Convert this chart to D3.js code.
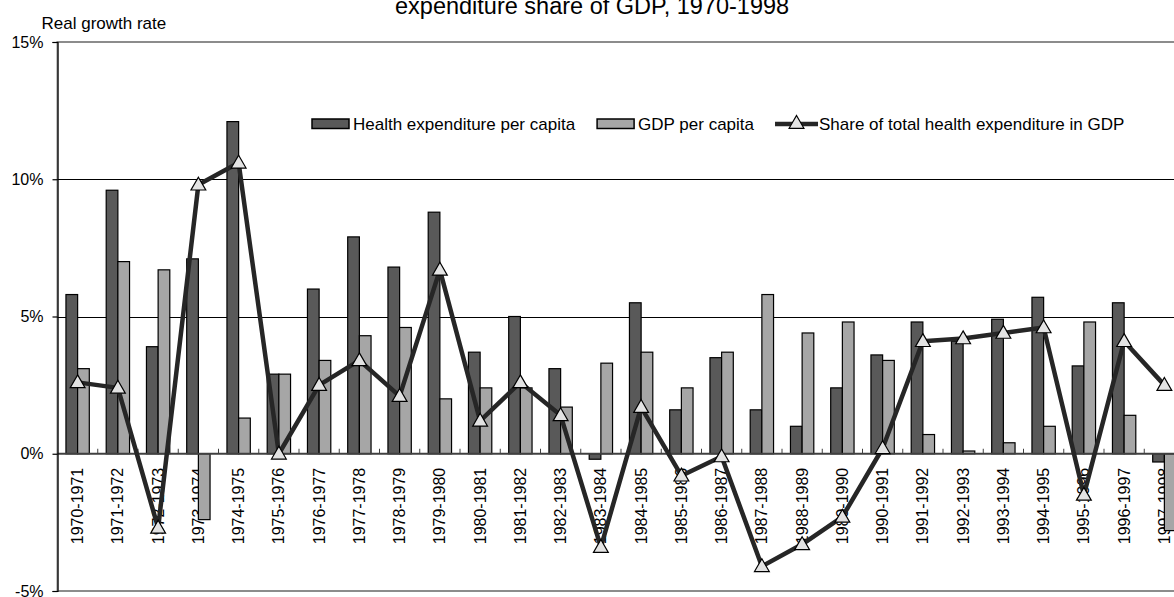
<!DOCTYPE html>
<html>
<head>
<meta charset="utf-8">
<script src="https://cdn.jsdelivr.net/npm/d3@7"></script>
<style>
  body { margin: 0; background: #fff; }
  svg { display: block; font-family: "Liberation Sans", Arial, sans-serif; }
</style>
</head>
<body>
<div id="chart"></div>
<script>
var categories = ['1970-1971','1971-1972','1972-1973','1973-1974','1974-1975','1975-1976','1976-1977',
  '1977-1978','1978-1979','1979-1980','1980-1981','1981-1982','1982-1983','1983-1984','1984-1985',
  '1985-1986','1986-1987','1987-1988','1988-1989','1989-1990','1990-1991','1991-1992','1992-1993',
  '1993-1994','1994-1995','1995-1996','1996-1997','1997-1998'];

// real growth rates, %
var healthPerCapita = [5.8, 9.6, 3.9, 7.1, 12.1, 2.9, 6.0, 7.9, 6.8, 8.8, 3.7, 5.0, 3.1, -0.2, 5.5,
  1.6, 3.5, 1.6, 1.0, 2.4, 3.6, 4.8, 4.1, 4.9, 5.7, 3.2, 5.5, -0.3];
var gdpPerCapita = [3.1, 7.0, 6.7, -2.4, 1.3, 2.9, 3.4, 4.3, 4.6, 2.0, 2.4, 2.4, 1.7, 3.3, 3.7,
  2.4, 3.7, 5.8, 4.4, 4.8, 3.4, 0.7, 0.1, 0.4, 1.0, 4.8, 1.4, -2.8];
var healthShareOfGdp = [2.6, 2.4, -2.7, 9.8, 10.6, 0.0, 2.5, 3.4, 2.1, 6.7, 1.2, 2.6, 1.4, -3.4, 1.7,
  -0.8, -0.1, -4.1, -3.3, -2.3, 0.2, 4.1, 4.2, 4.4, 4.6, -1.5, 4.1, 2.5];

var yTicks = [-5, 0, 5, 10, 15];
var seriesNames = ['Health expenditure per capita', 'GDP per capita', 'Share of total health expenditure in GDP'];

var svgWidth = 1174,
    svgHeight = 597,
    plotLeft = 57.5,
    plotRight = 1184.5,
    plotTop = 42,
    plotBottom = 591,
    darkFill = '#595959',
    lightFill = '#a6a6a6',
    lineColor = '#262626',
    markerFill = '#e3e3e3';

var svg = d3.select('#chart')
  .append('svg')
  .attr('width', svgWidth)
  .attr('height', svgHeight);

var x = d3.scaleBand().domain(categories).range([plotLeft, plotRight]);
var xs = d3.scaleBand().domain([0, 1])
  .range([x.bandwidth() * 0.21, x.bandwidth() * 0.79]);
var y = d3.scaleLinear().domain([-5, 15]).range([plotBottom, plotTop]);

// title (first line sits above the visible area)
svg.append('text')
  .attr('x', 395)
  .attr('y', 14)
  .attr('font-size', 23.5)
  .attr('fill', '#000')
  .text('expenditure share of GDP, 1970-1998');

svg.append('text')
  .attr('x', 41.5)
  .attr('y', 29)
  .attr('font-size', 17)
  .text('Real growth rate');

// plot border + gridlines
svg.append('rect')
  .attr('x', plotLeft)
  .attr('y', y(15))
  .attr('width', plotRight - plotLeft)
  .attr('height', y(-5) - y(15))
  .attr('fill', 'none')
  .attr('stroke', '#8c8c8c')
  .attr('stroke-width', 2);

svg.selectAll('line.grid')
  .data([5, 10])
  .enter()
  .append('line')
  .attr('class', 'grid')
  .attr('x1', plotLeft)
  .attr('x2', plotRight)
  .attr('y1', function(d){ return Math.round(y(d)) + 0.5; })
  .attr('y2', function(d){ return Math.round(y(d)) + 0.5; })
  .attr('stroke', '#000')
  .attr('stroke-width', 1);

// category labels, under the series like in the original
svg.selectAll('text.cat')
  .data(categories)
  .enter()
  .append('text')
  .attr('class', 'cat')
  .attr('transform', function(d){
    return 'translate(' + (x(d) + x.bandwidth() / 2) + ',' + (y(0) + 14) + ') rotate(-90)';
  })
  .attr('text-anchor', 'end')
  .attr('dy', '0.35em')
  .attr('font-size', 16)
  .text(function(d){ return d; });

// bars
var bars = [healthPerCapita, gdpPerCapita];
bars.forEach(function(values, s){
  svg.selectAll('rect.s' + s)
    .data(values)
    .enter()
    .append('rect')
    .attr('class', 's' + s)
    .attr('x', function(d, i){ return x(categories[i]) + xs(s); })
    .attr('width', xs.bandwidth())
    .attr('y', function(d){ return y(Math.max(0, d)); })
    .attr('height', function(d){ return Math.abs(y(d) - y(0)); })
    .attr('fill', s === 0 ? darkFill : lightFill)
    .attr('stroke', '#000')
    .attr('stroke-width', 1.2);
});

// x axis at 0% with small inside ticks between categories
svg.append('line')
  .attr('x1', plotLeft)
  .attr('x2', plotRight)
  .attr('y1', y(0))
  .attr('y2', y(0))
  .attr('stroke', '#404040')
  .attr('stroke-width', 2);

svg.selectAll('line.xtick')
  .data(categories.slice(1))
  .enter()
  .append('line')
  .attr('class', 'xtick')
  .attr('x1', function(d){ return x(d); })
  .attr('x2', function(d){ return x(d); })
  .attr('y1', y(0) - 5)
  .attr('y2', y(0))
  .attr('stroke', '#404040')
  .attr('stroke-width', 1);

// y axis
var yAxis = d3.axisLeft(y)
  .tickValues(yTicks)
  .tickSize(5)
  .tickPadding(9)
  .tickFormat(function(d){ return d + '%'; });

var gy = svg.append('g')
  .attr('transform', 'translate(' + plotLeft + ',0)')
  .call(yAxis);
gy.selectAll('text')
  .attr('font-size', 16)
  .attr('font-family', '"Liberation Sans", Arial, sans-serif')
  .attr('fill', '#000');
gy.selectAll('line, path').attr('stroke', '#000').attr('stroke-width', 1.2);

// share line
var line = d3.line()
  .x(function(d, i){ return x(categories[i]) + x.bandwidth() / 2; })
  .y(function(d){ return y(d); });

svg.append('path')
  .datum(healthShareOfGdp)
  .attr('d', line)
  .attr('fill', 'none')
  .attr('stroke', lineColor)
  .attr('stroke-width', 4.5)
  .attr('stroke-linejoin', 'round');

var triangle = d3.symbol().type(d3.symbolTriangle).size(95);

svg.selectAll('path.marker')
  .data(healthShareOfGdp)
  .enter()
  .append('path')
  .attr('class', 'marker')
  .attr('d', triangle)
  .attr('transform', function(d, i){
    return 'translate(' + (x(categories[i]) + x.bandwidth() / 2) + ',' + (y(d) + 1) + ')';
  })
  .attr('fill', markerFill)
  .attr('stroke', '#000')
  .attr('stroke-width', 1.2);

// legend
var legend = svg.append('g').attr('font-size', 17);
var lx = 312,
    ly = 124;

legend.append('rect')
  .attr('x', lx).attr('y', ly - 5).attr('width', 37).attr('height', 9.5)
  .attr('fill', darkFill).attr('stroke', '#000').attr('stroke-width', 1.5);
var t0 = legend.append('text').attr('x', lx + 41).attr('y', ly + 5.5).text(seriesNames[0]);
lx = lx + 41 + t0.node().getComputedTextLength() + 22;

legend.append('rect')
  .attr('x', lx).attr('y', ly - 5).attr('width', 37).attr('height', 9.5)
  .attr('fill', lightFill).attr('stroke', '#000').attr('stroke-width', 1.5);
var t1 = legend.append('text').attr('x', lx + 41).attr('y', ly + 5.5).text(seriesNames[1]);
lx = lx + 41 + t1.node().getComputedTextLength() + 21;

legend.append('line')
  .attr('x1', lx).attr('x2', lx + 43).attr('y1', ly).attr('y2', ly)
  .attr('stroke', lineColor).attr('stroke-width', 4.5);
legend.append('path')
  .attr('d', triangle)
  .attr('transform', 'translate(' + (lx + 21.5) + ',' + ly + ')')
  .attr('fill', markerFill).attr('stroke', '#000').attr('stroke-width', 1.2);
legend.append('text').attr('x', lx + 44).attr('y', ly + 5.5).text(seriesNames[2]);
</script>
</body>
</html>
